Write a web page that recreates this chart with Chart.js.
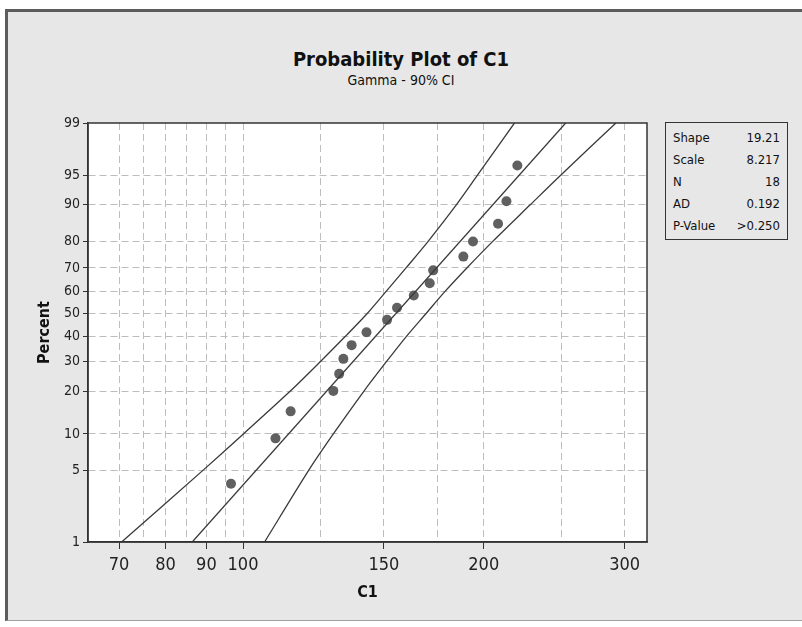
<!DOCTYPE html>
<html>
<head>
<meta charset="utf-8">
<title>Probability Plot of C1</title>
<script src="https://cdn.jsdelivr.net/npm/chart.js@4.4.1/dist/chart.umd.min.js"></script>
<style>
  html, body { margin: 0; padding: 0; background: #ffffff; }
  body { width: 802px; height: 627px; position: relative; overflow: hidden;
         font-family: 'Liberation Sans Narrow', 'DejaVu Sans Condensed', 'Liberation Sans', sans-serif; }
  .panel { position: absolute; left: 5px; top: 9px; width: 797px; height: 612px;
           background: #e7e7e7; border-left: 3px solid #5c5c5c; border-top: 3px solid #5c5c5c;
           border-bottom: 1px solid #a0a0a0; box-sizing: border-box; }
  .title { position: absolute; left: 0; width: 802px; text-align: center; color: #111; }
  #main-title { top: 47px; font-size: 20px; font-weight: bold; }
  #sub-title { top: 72px; font-size: 14px; }
  #stats { position: absolute; left: 665px; top: 122px; width: 123px; height: 118px;
           border: 1px solid #333; box-sizing: border-box; padding: 7px 7px 0 7px; font-size: 13px; color: #111; }
  #stats .row { display: flex; justify-content: space-between; height: 22px; line-height: 16px; }
  canvas { position: absolute; left: 0; top: 0; }
</style>
</head>
<body>
<div class="panel"></div>
<div class="title" id="main-title">Probability Plot of C1</div>
<div class="title" id="sub-title">Gamma - 90% CI</div>
<div id="stats"></div>
<canvas id="chart" width="802" height="627"></canvas>
<script>
// Dados
const percentValues = [3.8, 9.24, 14.67, 20.11, 25.54, 30.98, 36.41, 41.85, 47.28, 52.72, 58.15, 63.59, 69.02, 74.46, 79.89, 85.33, 90.76, 96.2];
const c1Values = [96.6, 109.8, 114.7, 129.7, 131.9, 133.5, 136.7, 142.7, 151.4, 155.8, 163.5, 171.2, 172.9, 188.6, 193.9, 208.4, 213.5, 220.3];

// Linha ajustada e bandas de confiança (90%)
const fitPercent = [1, 99];
const fitC1 = [86.4, 253.2];
const ciPercent = [1, 5, 10, 20, 30, 40, 50, 60, 70, 80, 90, 95, 99];
const ciUpperC1 = [70.5, 89.1, 100.1, 114.5, 125.0, 134.2, 142.9, 151.0, 159.9, 170.5, 184.8, 196.2, 218.5];
const ciLowerC1 = [106.4, 120.8, 129.7, 141.6, 151.2, 160.0, 169.3, 178.9, 190.5, 205.4, 228.6, 249.2, 292.6];

// Ticks dos eixos
const percentTicks = [1, 5, 10, 20, 30, 40, 50, 60, 70, 80, 90, 95, 99];
const c1GridValues = [70, 75, 80, 85, 90, 95, 100, 125, 150, 175, 200, 250, 300];
const c1TickLabels = [70, 80, 90, 100, 150, 200, 300];

// Tabela de estatísticas
const statLabels = ['Shape', 'Scale', 'N', 'AD', 'P-Value'];
const statValues = ['19.21', '8.217', '18', '0.192', '>0.250'];

const SHAPE = 19.21;
const FONT = "'Liberation Sans Narrow', 'DejaVu Sans Condensed', 'Liberation Sans', sans-serif";

// Inversa da normal padrão (Acklam)
function normInv(p) {
  const a = [-3.969683028665376e+01, 2.209460984245205e+02, -2.759285104469687e+02, 1.383577518672690e+02, -3.066479806614716e+01, 2.506628277459239e+00];
  const b = [-5.447609879822406e+01, 1.615858368580409e+02, -1.556989798598866e+02, 6.680131188771972e+01, -1.328068155288572e+01];
  const c = [-7.784894002430293e-03, -3.223964580411365e-01, -2.400758277161838e+00, -2.549732539343734e+00, 4.374664141464968e+00, 2.938163982698783e+00];
  const d = [7.784695709041462e-03, 3.224671290700398e-01, 2.445134137142996e+00, 3.754408661907416e+00];
  const pl = 0.02425;
  if (p < pl) {
    const q = Math.sqrt(-2 * Math.log(p));
    return (((((c[0] * q + c[1]) * q + c[2]) * q + c[3]) * q + c[4]) * q + c[5]) / ((((d[0] * q + d[1]) * q + d[2]) * q + d[3]) * q + 1);
  }
  if (p > 1 - pl) {
    const q = Math.sqrt(-2 * Math.log(1 - p));
    return -(((((c[0] * q + c[1]) * q + c[2]) * q + c[3]) * q + c[4]) * q + c[5]) / ((((d[0] * q + d[1]) * q + d[2]) * q + d[3]) * q + 1);
  }
  const q = p - 0.5, r = q * q;
  return (((((a[0] * r + a[1]) * r + a[2]) * r + a[3]) * r + a[4]) * r + a[5]) * q / (((((b[0] * r + b[1]) * r + b[2]) * r + b[3]) * r + b[4]) * r + 1);
}

function normCdf(z) {
  const t = 1 / (1 + 0.2316419 * Math.abs(z));
  const poly = t * (0.319381530 + t * (-0.356563782 + t * (1.781477937 + t * (-1.821255978 + t * 1.330274429))));
  const v = 1 - Math.exp(-z * z / 2) / Math.sqrt(2 * Math.PI) * poly;
  return z >= 0 ? v : 1 - v;
}

// Posição na escala de probabilidade gama: ln do quantil (Wilson-Hilferty)
const WH_A = 1 - 1 / (9 * SHAPE);
const WH_B = 1 / (3 * Math.sqrt(SHAPE));
function gammaPos(percent) {
  return 3 * Math.log(WH_A + WH_B * normInv(percent / 100));
}
function gammaPercent(pos) {
  return 100 * normCdf((Math.exp(pos / 3) - WH_A) / WH_B);
}

// Escala de probabilidade personalizada
class GammaProbScale extends Chart.Scale {
  determineDataLimits() {
    this.min = this.options.min;
    this.max = this.options.max;
  }
  buildTicks() {
    return percentTicks.map(v => ({ value: v }));
  }
  getLabelForValue(value) {
    return value.toFixed(1) + '%';
  }
  configure() {
    super.configure();
    this._lo = gammaPos(this.min);
    this._hi = gammaPos(this.max);
  }
  getPixelForValue(value) {
    return this.getPixelForDecimal((gammaPos(value) - this._lo) / (this._hi - this._lo));
  }
  getValueForPixel(pixel) {
    return gammaPercent(this._lo + this.getDecimalForPixel(pixel) * (this._hi - this._lo));
  }
}
GammaProbScale.id = 'gammaProb';
GammaProbScale.defaults = {};
Chart.register(GammaProbScale);

// Fundo branco e moldura da área do gráfico
const plotFrame = {
  id: 'plotFrame',
  beforeDraw(chart) {
    const { ctx, chartArea: a } = chart;
    ctx.save();
    ctx.fillStyle = '#ffffff';
    ctx.fillRect(a.left, a.top, a.right - a.left, a.bottom - a.top);
    ctx.restore();
  },
  afterDraw(chart) {
    const { ctx, chartArea: a } = chart;
    ctx.save();
    ctx.strokeStyle = '#333333';
    ctx.lineWidth = 1.5;
    ctx.strokeRect(a.left, a.top, a.right - a.left, a.bottom - a.top);
    ctx.restore();
  }
};

function toPoints(xs, ys) {
  return xs.map((x, i) => ({ x: x, y: ys[i] }));
}

function renderStats() {
  const box = document.getElementById('stats');
  statLabels.forEach((label, i) => {
    const row = document.createElement('div');
    row.className = 'row';
    const l = document.createElement('span');
    l.textContent = label;
    const v = document.createElement('span');
    v.textContent = statValues[i];
    row.appendChild(l);
    row.appendChild(v);
    box.appendChild(row);
  });
}

function renderChart() {
  Chart.defaults.font.family = FONT;
  const lineStyle = { showLine: true, pointRadius: 0, borderColor: '#3a3a3a', borderWidth: 1.3, fill: false };

  new Chart(document.getElementById('chart'), {
    type: 'scatter',
    data: {
      datasets: [
        Object.assign({ label: 'Upper CI', data: toPoints(ciUpperC1, ciPercent), tension: 0.3 }, lineStyle),
        Object.assign({ label: 'Fit', data: toPoints(fitC1, fitPercent) }, lineStyle),
        Object.assign({ label: 'Lower CI', data: toPoints(ciLowerC1, ciPercent), tension: 0.3 }, lineStyle),
        {
          label: 'C1',
          data: toPoints(c1Values, percentValues),
          pointRadius: 5,
          pointBackgroundColor: '#606060',
          pointBorderWidth: 0
        }
      ]
    },
    options: {
      responsive: false,
      animation: false,
      layout: { padding: { left: 30, right: 155, top: 123, bottom: 15 } },
      plugins: { legend: { display: false }, tooltip: { enabled: true } },
      scales: {
        x: {
          type: 'logarithmic',
          min: 64,
          max: 320,
          afterBuildTicks: scale => { scale.ticks = c1GridValues.map(v => ({ value: v })); },
          afterFit: scale => { scale.height = 70; },
          ticks: {
            autoSkip: false,
            maxRotation: 0,
            padding: 6,
            color: '#222',
            font: { size: 18 },
            callback: v => (c1TickLabels.includes(v) ? String(v) : '')
          },
          grid: {
            color: '#bdbdbd',
            lineWidth: 1,
            tickLength: 7,
            tickBorderDash: [],
            tickColor: ctx => (ctx.tick && c1TickLabels.includes(ctx.tick.value) ? '#333' : 'rgba(0,0,0,0)')
          },
          border: { color: '#333', width: 1.5, dash: [7, 4] },
          title: { display: true, text: 'C1', color: '#111', font: { size: 16, weight: 'bold' }, padding: { top: 4, bottom: 10 } }
        },
        y: {
          type: 'gammaProb',
          min: 1,
          max: 99,
          afterFit: scale => { scale.width = 58; },
          ticks: { autoSkip: false, padding: 3, color: '#222', font: { size: 14 } },
          grid: {
            color: ctx => (ctx.tick && (ctx.tick.value === 1 || ctx.tick.value === 99) ? 'rgba(0,0,0,0)' : '#bdbdbd'),
            lineWidth: 1,
            tickLength: 5,
            tickBorderDash: [],
            tickColor: '#333'
          },
          border: { color: '#333', width: 1.5, dash: [7, 4] },
          title: { display: true, text: 'Percent', color: '#111', font: { size: 16, weight: 'bold' }, padding: { top: 5, bottom: 0 } }
        }
      }
    },
    plugins: [plotFrame]
  });
}

window.addEventListener('DOMContentLoaded', () => {
  renderStats();
  renderChart();
});
</script>
</body>
</html>
